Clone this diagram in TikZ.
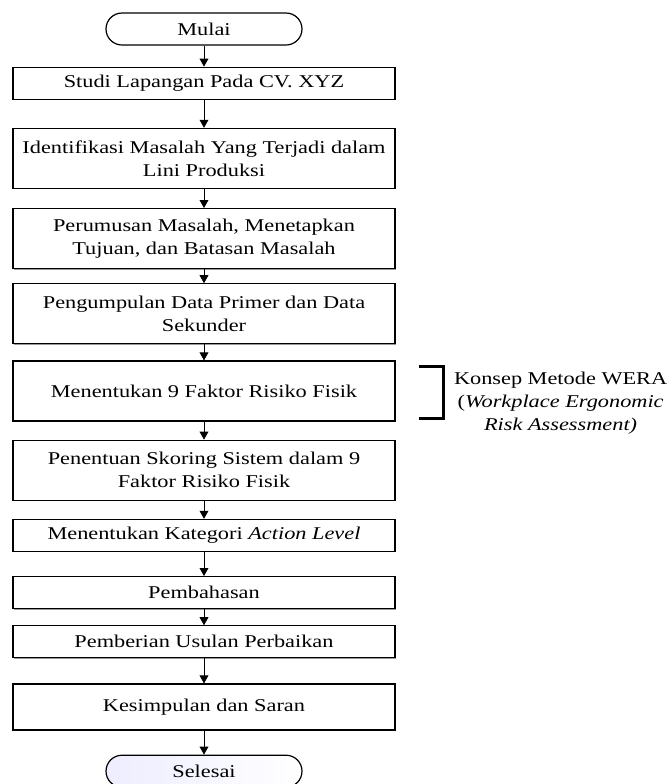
\documentclass[tikz,border=0pt]{standalone}
\usepackage{fontspec}
\setmainfont{Liberation Serif}[FakeStretch=1.24]
\usetikzlibrary{positioning, arrows.meta, calc, shadows}

\begin{document}
\begin{tikzpicture}[font=\fontsize{9}{11.5}\selectfont, >={Triangle[length=4pt, width=4.4pt]},
  node distance=9.5pt,
  term/.style={draw, line width=0.6pt, rounded corners=8pt, align=center, minimum width=98pt, minimum height=16pt, inner sep=0pt},
  proc/.style={draw, line width=0.6pt, fill=white, align=center, minimum width=191pt, minimum height=16pt, inner sep=1pt, drop shadow={shadow xshift=0.5pt, shadow yshift=-0.5pt, fill=black!40, opacity=1}},
  proc2/.style={proc, minimum height=30pt},
  note/.style={align=center, inner sep=0pt}]
  \useasboundingbox (0,0) rectangle (334pt,-392pt);
  \node[term] (mulai) at (102pt,-14.5pt) {Mulai};
  \node[proc, below=10.5pt of mulai] (studi) {Studi Lapangan Pada CV. XYZ};
  \node[proc2, below=14pt of studi] (ident) {Identifikasi Masalah Yang Terjadi dalam\\ Lini Produksi};
  \node[proc2, below=of ident] (rumus) {Perumusan Masalah, Menetapkan\\ Tujuan, dan Batasan Masalah};
  \node[proc2, below=7pt of rumus] (data) {Pengumpulan Data Primer dan Data\\ Sekunder};
  \node[proc2, below=8pt of data] (m9) {Menentukan 9 Faktor Risiko Fisik};
  \node[proc2, below=9pt of m9] (skor) {Penentuan Skoring Sistem dalam 9\\ Faktor Risiko Fisik};
  \node[proc, below=9pt of skor] (aksi) {Menentukan Kategori \textit{Action Level}};
  \node[proc, below=12pt of aksi] (bahas) {Pembahasan};
  \node[proc, below=8pt of bahas] (usul) {Pemberian Usulan Perbaikan};
  \node[proc, below=12.5pt of usul, minimum height=23pt] (saran) {Kesimpulan dan Saran};
  \node[term, left color=blue!7, right color=white, below=12pt of saran] (selesai) {Selesai};
  \draw[->] (mulai)--(studi); \draw[->] (studi)--(ident); \draw[->] (ident)--(rumus);
  \draw[->] (rumus)--(data); \draw[->] (data)--(m9); \draw[->] (m9)--(skor);
  \draw[->] (skor)--(aksi); \draw[->] (aksi)--(bahas); \draw[->] (bahas)--(usul);
  \draw[->] (usul)--(saran); \draw[->] (saran)--(selesai);
  \draw[line width=1.5pt] ($(m9.north east)+(11.5pt,-3pt)$) -| ($(m9.south east)+(24pt,1.5pt)$) -- ++(-12.5pt,0);
  \node[note, anchor=west] (wera) at ($(m9.east)+(29pt,-6pt)$) {Konsep Metode WERA\\ (\textit{Workplace Ergonomic}\\ \textit{Risk Assessment)}};
\end{tikzpicture}
\end{document}
